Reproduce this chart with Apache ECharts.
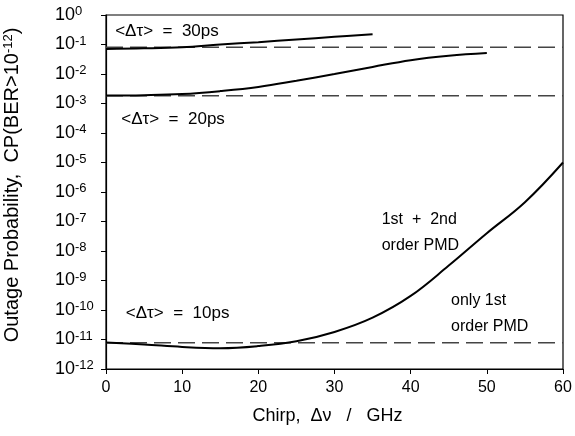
<!DOCTYPE html>
<html>
<head>
<meta charset="utf-8">
<script src="https://cdn.jsdelivr.net/npm/echarts@6/dist/echarts.min.js"></script>
<style>html,body{margin:0;padding:0;background:#fff}#c{width:575px;height:436px}</style>
</head>
<body>
<div id="c"></div>
<script>
// Chirp values (GHz)
const chirp30 = [0, 5, 10, 15, 20, 25, 30, 35];
const chirp20 = [0, 5, 10, 15, 20, 25, 30, 35, 40, 45, 50];
const chirp10 = [0, 5, 10, 15, 20, 25, 30, 35, 40, 45, 50, 55, 60];
// Outage probability, 1st + 2nd order PMD
const cp30 = [0.071, 0.074, 0.081, 0.100, 0.120, 0.148, 0.182, 0.224];
const cp20 = [0.00186, 0.00191, 0.00209, 0.00263, 0.00363, 0.00589, 0.0100, 0.0174, 0.0295, 0.0417, 0.0513];
const cp10 = [7.9e-12, 6.8e-12, 5.6e-12, 5.1e-12, 6.0e-12, 8.7e-12, 1.8e-11, 5.5e-11, 3.0e-10, 3.2e-9, 4.0e-8, 4.5e-7, 1.0e-5];
// Only 1st order PMD (constant levels)
const first30 = 0.080;
const first20 = 0.00184;
const first10 = 7.8e-12;
const xRange = [0, 60];
// Text annotations [x, y, text, fontSize]
const notes = [
  [1.2, 0.29, '<Δτ>  =  30ps', 17],
  [2.0, 3.0e-4, '<Δτ>  =  20ps', 17],
  [2.6, 7.9e-11, '<Δτ>  =  10ps', 17],
  [36.2, 4.3e-8, '1st  +  2nd\norder PMD', 16],
  [45.3, 7.3e-11, 'only 1st\norder PMD', 16]
];

const FONT = 'Liberation Sans, Arial, sans-serif';
const zip = (xs, ys) => xs.map((x, i) => [x, ys[i]]);
const solid = (d) => ({type:'line', data:d, smooth:0.4, showSymbol:false, lineStyle:{color:'#000', width:2}, z:3});
const dashed = (v) => ({type:'line', data:xRange.map(x => [x, v]), showSymbol:false,
  lineStyle:{color:'#444', width:1.5, type:[17,7]}, z:2});

const chart = echarts.init(document.getElementById('c'), null, {renderer:'canvas'});
chart.setOption({
  animation:false,
  backgroundColor:'#fff',
  textStyle:{fontFamily:FONT},
  grid:{left:106, right:12, top:15, bottom:67, show:true, borderColor:'#000', borderWidth:1.2,
        containLabel:false, outerBoundsMode:'none'},
  xAxis:{
    type:'value', min:0, max:60, interval:10,
    name:'Chirp,  Δν   /   GHz', nameLocation:'middle', nameGap:38,
    nameTextStyle:{fontSize:18, color:'#000', fontFamily:FONT, padding:[0,14,0,0]},
    axisLine:{lineStyle:{color:'#000', width:1.2}},
    axisTick:{inside:false, length:5, lineStyle:{color:'#000'}},
    axisLabel:{fontSize:16, color:'#000', margin:11, fontFamily:FONT},
    splitLine:{show:false}
  },
  yAxis:{
    type:'log', logBase:10, min:1e-12, max:1, interval:1,
    name:'{b|Outage Probability,  CP(BER>10}{s|-12}{b|)}', nameLocation:'middle', nameGap:84,
    nameTextStyle:{color:'#000', fontFamily:FONT, padding:[0,0,0,14],
      rich:{b:{fontSize:20, color:'#000', fontFamily:FONT}, s:{fontSize:13, color:'#000', verticalAlign:'top', fontFamily:FONT}}},
    axisLine:{show:true, lineStyle:{color:'#000', width:1.2}},
    axisTick:{show:true, inside:false, length:5, lineStyle:{color:'#000'}},
    minorTick:{show:false},
    axisLabel:{color:'#000', margin:51, align:'left', fontFamily:FONT, interval:0,
      formatter:(v) => '{b|10}{s|' + Math.round(Math.log10(v)) + '}',
      rich:{b:{fontSize:18, color:'#000', fontFamily:FONT, lineHeight:20},
            s:{fontSize:13, color:'#000', verticalAlign:'top', fontFamily:FONT, lineHeight:20}}},
    splitLine:{show:false}
  },
  series:[
    dashed(first30), dashed(first20), dashed(first10),
    solid(zip(chirp30, cp30)), solid(zip(chirp20, cp20)), solid(zip(chirp10, cp10)),
    {type:'scatter', symbolSize:0, z:5, itemStyle:{opacity:1},
     data:notes.map(n => ({value:[n[0], n[1]], name:n[2], label:{fontSize:n[3]}})),
     label:{show:true, position:'right', distance:0, formatter:(p) => p.name, opacity:1,
       color:'#000', fontFamily:FONT, lineHeight:26, align:'left'}}
  ]
});
</script>
</body>
</html>
